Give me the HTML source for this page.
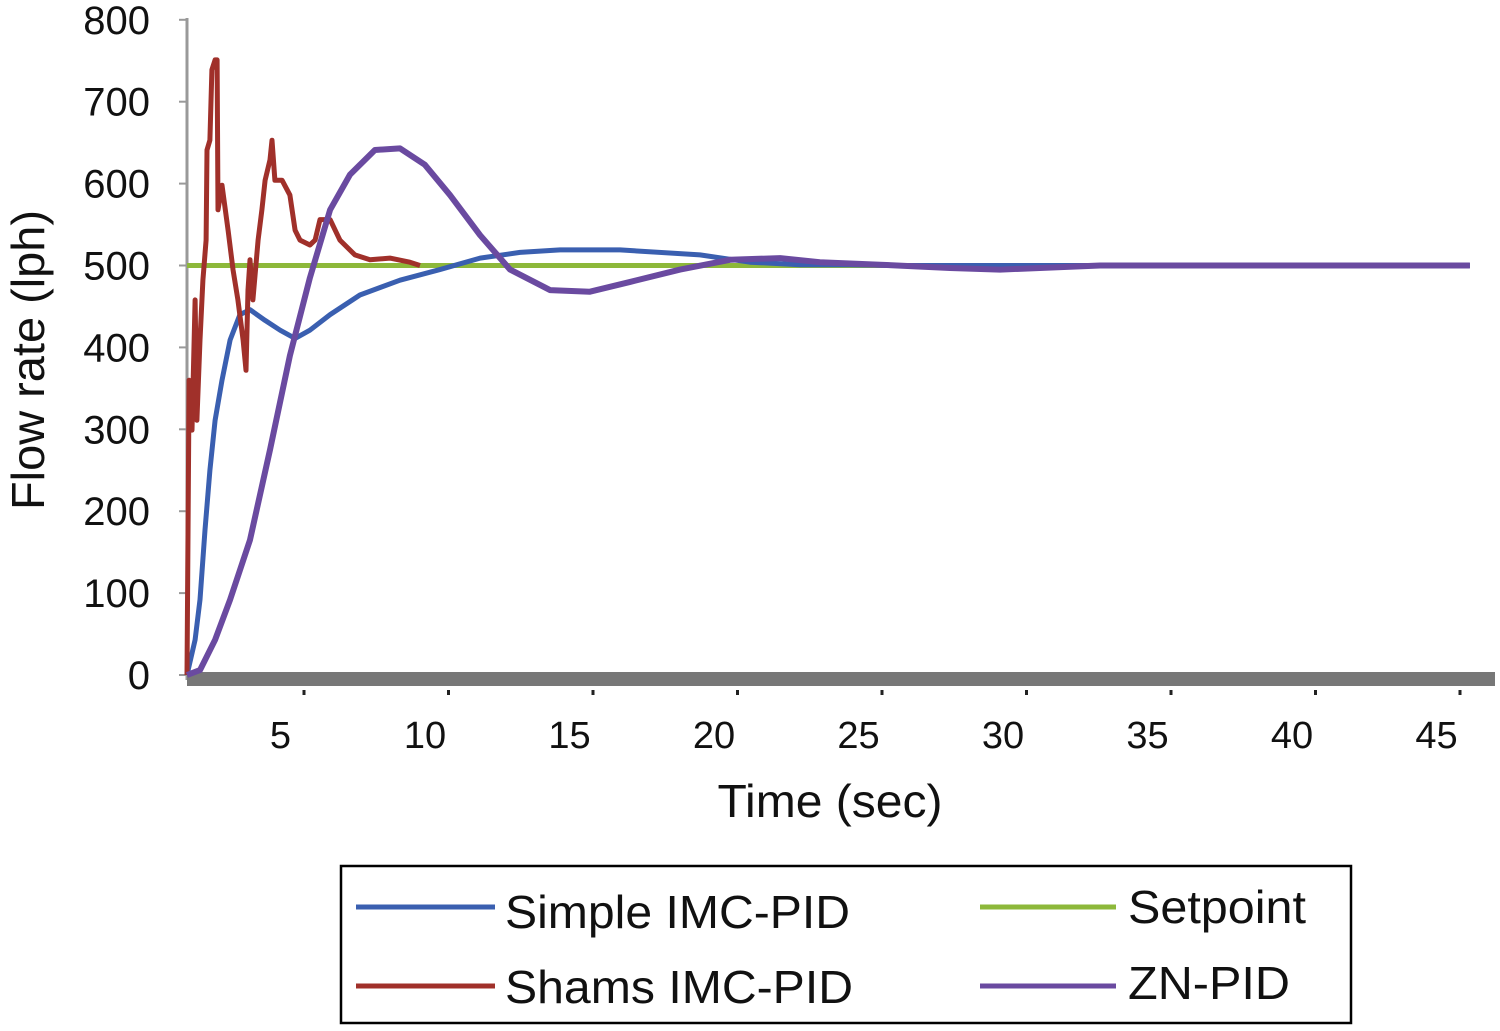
<!DOCTYPE html>
<html><head><meta charset="utf-8"><style>
body{margin:0;background:#fff;}
svg text{font-family:"Liberation Sans",Arial,sans-serif;fill:#111;}
</style></head><body>
<svg id="chart" width="1500" height="1026" viewBox="0 0 1500 1026" xmlns="http://www.w3.org/2000/svg">
<rect width="1500" height="1026" fill="#fff"/>
<g id="axes"></g>
<g id="series"></g>
<text x="0" y="0" font-size="46" text-anchor="middle" textLength="300" lengthAdjust="spacingAndGlyphs" transform="translate(44,360) rotate(-90)">Flow rate (lph)</text>
<text x="830" y="817" font-size="46" text-anchor="middle" textLength="225" lengthAdjust="spacingAndGlyphs">Time (sec)</text>
<g>
<rect x="341" y="866" width="1010" height="157" fill="none" stroke="#000" stroke-width="2.5"/>
<line x1="356" y1="907" x2="495" y2="907" stroke="#3a5fb0" stroke-width="5"/>
<text x="505" y="928" font-size="46" textLength="345" lengthAdjust="spacingAndGlyphs">Simple IMC-PID</text>
<line x1="980" y1="907" x2="1116" y2="907" stroke="#8db83a" stroke-width="5"/>
<text x="1128" y="923" font-size="46" textLength="178" lengthAdjust="spacingAndGlyphs">Setpoint</text>
<line x1="356" y1="986" x2="495" y2="986" stroke="#a0302a" stroke-width="5"/>
<text x="505" y="1003" font-size="46" textLength="348" lengthAdjust="spacingAndGlyphs">Shams IMC-PID</text>
<line x1="980" y1="986" x2="1116" y2="986" stroke="#6a4aa0" stroke-width="5"/>
<text x="1128" y="999" font-size="46" textLength="162" lengthAdjust="spacingAndGlyphs">ZN-PID</text>
</g>
</svg>
<script>
const yTicks=[0,100,200,300,400,500,600,700,800];
const xTicks=[5,10,15,20,25,30,35,40,45];
const shamsT=[1.42,1.49,1.59,1.70,1.76,1.87,1.97,2.08,2.11,2.21,2.28,2.39,2.46,2.49,2.63,2.84,3.01,3.18,3.36,3.46,3.53,3.60,3.70,3.88,4.01,4.12,4.29,4.36,4.46,4.71,4.98,5.16,5.33,5.67,5.85,6.02,6.37,6.71,7.23,7.75,8.44,9.13,9.48];
const shamsV=[0,360,299,458,311,409,482,531,641,653,739,751,751,568,598,543,495,458,409,372,470,507,458,531,568,604,629,653,604,604,586,543,531,525,531,556,556,531,513,507,509,504,500];
const simpleT=[1.42,1.70,1.87,2.04,2.21,2.39,2.63,2.91,3.25,3.60,4.12,4.64,5.16,5.67,6.37,7.40,8.79,10.17,11.56,12.94,14.33,16.40,19.17,20.90,22.63,24.36,26.09,45.81];
const simpleV=[0,43,92,177,250,311,360,409,440,446,433,421,411,421,440,464,482,495,509,516,519,519,513,504,501,501,500,500];
const znT=[1.42,1.87,2.39,2.91,3.60,4.29,4.98,5.67,6.37,7.06,7.92,8.79,9.65,10.52,11.56,12.60,13.98,15.36,16.75,18.48,20.21,21.94,23.32,25.40,27.82,29.55,33.01,45.81];
const znV=[0,6,43,92,165,275,390,485,568,611,641,643,623,586,537,495,470,468,480,495,507,509,504,501,497,495,500,500];
const setT=[1.42,45.81];
const setV=[500,500];

const NS="http://www.w3.org/2000/svg";
const xS=t=>146+28.9*t;
const yS=v=>675-0.819*v;
const axes=document.getElementById('axes');
const series=document.getElementById('series');
function mk(tag,attrs,parent){const e=document.createElementNS(NS,tag);for(const k in attrs)e.setAttribute(k,attrs[k]);parent.appendChild(e);return e;}

const yl=mk('line',{x1:187,y1:18,x2:187,y2:680,stroke:'#999','stroke-width':3},axes);


yTicks.forEach(v=>{
  const tk=mk('line',{x1:179,y1:yS(v),x2:187,y2:yS(v),stroke:'#999','stroke-width':2},axes);
  
  
  const tx=mk('text',{x:150,y:yS(v)+14,'font-size':40,'text-anchor':'end'},axes);
  tx.textContent=v;
  
  
});
const xb=mk('rect',{x:187,y:672,width:1308,height:14,fill:'#777'},axes);


xTicks.forEach(t=>{
  const d=mk('rect',{x:xS(t)+12,y:690,width:3,height:5,fill:'#222'},axes);
  
  
  const tx=mk('text',{x:xS(t)-10,y:748,'font-size':38,'text-anchor':'middle'},axes);
  tx.textContent=t;
  
  
});
function line(T,V,color,name,w){
  const d=T.map((t,i)=>(i?'L':'M')+xS(t).toFixed(1)+','+yS(V[i]).toFixed(1)).join(' ');
  const p=mk('path',{d:d,fill:'none',stroke:color,'stroke-width':w,'stroke-linejoin':'round'},series);
  
  
}
line(setT,setV,'#8db83a','setpoint-line',5);
line(simpleT,simpleV,'#3a5fb0','simple-imc-pid-line',5);
line(shamsT,shamsV,'#a0302a','shams-imc-pid-line',5);
line(znT,znV,'#6a4aa0','zn-pid-line',6);
</script>
</body></html>
